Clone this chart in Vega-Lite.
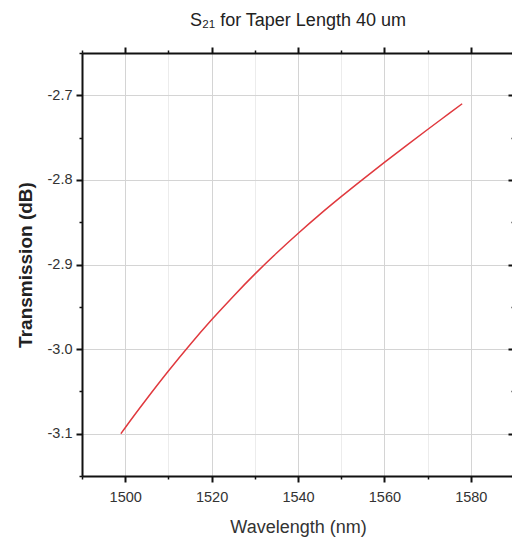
{
  "$schema": "https://vega.github.io/schema/vega-lite/v6.json",
  "autosize": {"type": "none"},
  "width": 432,
  "height": 423,
  "padding": {"left": 82, "top": 53, "right": 0, "bottom": 71},
  "background": "white",
  "title": {
    "text": "S₂₁ for Taper Length 40 um",
    "font": "Liberation Sans, sans-serif",
    "fontSize": 18,
    "fontWeight": "normal",
    "color": "#222222",
    "anchor": "middle",
    "offset": 16
  },
  "config": {
    "view": {"stroke": null},
    "axis": {
      "labelFont": "Liberation Sans, sans-serif",
      "titleFont": "Liberation Sans, sans-serif",
      "domainColor": "#111111",
      "domainWidth": 2,
      "tickColor": "#111111",
      "labelColor": "#333333",
      "titleColor": "#333333"
    }
  },
  "data": {
    "values": [
      {"wavelength": 1499, "s21": -3.1000},
      {"wavelength": 1500, "s21": -3.0929},
      {"wavelength": 1505, "s21": -3.0587},
      {"wavelength": 1510, "s21": -3.0259},
      {"wavelength": 1515, "s21": -2.9948},
      {"wavelength": 1520, "s21": -2.9654},
      {"wavelength": 1525, "s21": -2.9377},
      {"wavelength": 1530, "s21": -2.9114},
      {"wavelength": 1535, "s21": -2.8867},
      {"wavelength": 1540, "s21": -2.8633},
      {"wavelength": 1545, "s21": -2.8410},
      {"wavelength": 1550, "s21": -2.8198},
      {"wavelength": 1555, "s21": -2.7993},
      {"wavelength": 1560, "s21": -2.7793},
      {"wavelength": 1565, "s21": -2.7597},
      {"wavelength": 1570, "s21": -2.7404},
      {"wavelength": 1575, "s21": -2.7214},
      {"wavelength": 1578, "s21": -2.7100}
    ]
  },
  "resolve": {"axis": {"x": "independent", "y": "independent"}},
  "layer": [
    {
      "mark": {"type": "line", "strokeOpacity": 0},
      "encoding": {
        "x": {"field": "wavelength", "type": "quantitative", "scale": {"domain": [1490, 1590], "nice": false, "zero": false},
          "axis": {"orient": "bottom", "values": [1490, 1510, 1530, 1550, 1570, 1590], "labels": false, "title": null, "tickSize": 3, "tickWidth": 1.5, "domain": false, "grid": true, "gridColor": "#ececec", "gridWidth": 1}},
        "y": {"field": "s21", "type": "quantitative", "scale": {"domain": [-3.15, -2.65], "nice": false, "zero": false},
          "axis": {"orient": "left", "values": [-3.15, -3.05, -2.95, -2.85, -2.75, -2.65], "labels": false, "title": null, "tickSize": 3, "tickWidth": 1.5, "domain": false, "grid": false}}
      }
    },
    {
      "mark": {"type": "line", "color": "#e0393e", "strokeWidth": 1.5, "interpolate": "monotone"},
      "encoding": {
        "x": {"field": "wavelength", "type": "quantitative",
          "axis": {"orient": "bottom", "values": [1500, 1520, 1540, 1560, 1580], "format": "d", "labelFontSize": 14.5, "labelPadding": 8, "tickSize": 6, "tickWidth": 2, "grid": true, "gridColor": "#d4d4d4", "gridWidth": 1,
            "title": "Wavelength (nm)", "titleFontSize": 18, "titleFontWeight": "normal", "titlePadding": 15}},
        "y": {"field": "s21", "type": "quantitative",
          "axis": {"orient": "left", "values": [-3.1, -3.0, -2.9, -2.8, -2.7], "labelExpr": "replace(format(datum.value, '.1f'), '\u2212', '-')", "labelFontSize": 14.5, "labelPadding": 4, "tickSize": 6, "tickWidth": 2, "grid": true, "gridColor": "#d4d4d4", "gridWidth": 1,
            "title": "Transmission (dB)", "titleFontSize": 19, "titleFontWeight": "bold", "titleColor": "#222222", "titlePadding": 12}}
      }
    },
    {
      "mark": {"type": "line", "strokeOpacity": 0},
      "encoding": {
        "x": {"field": "wavelength", "type": "quantitative",
          "axis": {"orient": "top", "values": [1500, 1520, 1540, 1560, 1580], "labels": false, "title": null, "tickSize": 6, "tickWidth": 2, "grid": false}},
        "y": {"field": "s21", "type": "quantitative",
          "axis": {"orient": "right", "values": [-3.1, -3.0, -2.9, -2.8, -2.7], "labels": false, "title": null, "tickSize": -6, "tickWidth": 2, "grid": false}}
      }
    },
    {
      "mark": {"type": "line", "strokeOpacity": 0},
      "encoding": {
        "x": {"field": "wavelength", "type": "quantitative",
          "axis": {"orient": "top", "values": [1490, 1510, 1530, 1550, 1570, 1590], "labels": false, "title": null, "tickSize": 3, "tickWidth": 1.5, "domain": false, "grid": false}},
        "y": {"field": "s21", "type": "quantitative",
          "axis": {"orient": "right", "values": [-3.15, -3.05, -2.95, -2.85, -2.75, -2.65], "labels": false, "title": null, "tickSize": -3, "tickWidth": 1.5, "domain": false, "grid": false}}
      }
    }
  ]
}
